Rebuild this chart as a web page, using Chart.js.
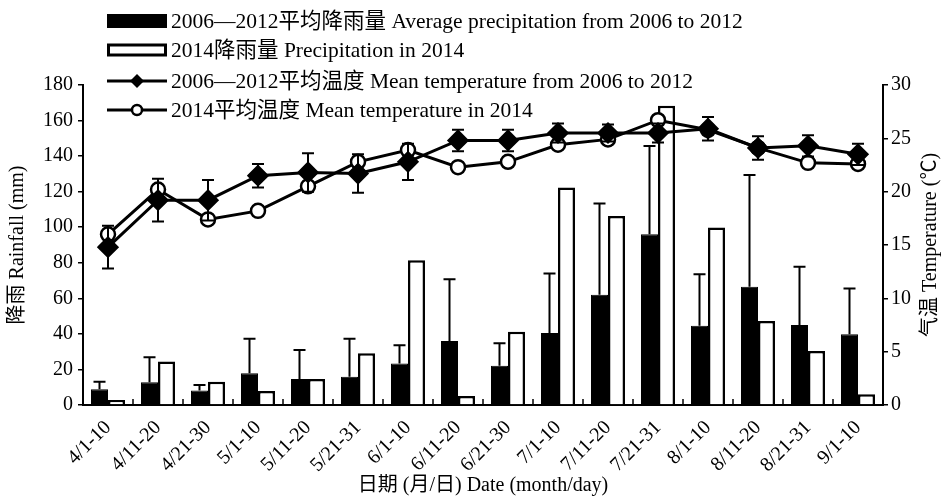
<!DOCTYPE html>
<html>
<head>
<meta charset="utf-8">
<script src="https://cdn.jsdelivr.net/npm/chart.js@4.4.1/dist/chart.umd.min.js"></script>
<style>
  html, body { margin: 0; padding: 0; background: #fff; }
  #wrap { width: 943px; height: 498px; }
</style>
</head>
<body>
<div id="wrap"><canvas id="myChart" width="943" height="498"></canvas></div>
<script>
var categories = ['4/1-10', '4/11-20', '4/21-30', '5/1-10', '5/11-20', '5/21-31', '6/1-10', '6/11-20',
                  '6/21-30', '7/1-10', '7/11-20', '7/21-31', '8/1-10', '8/11-20', '8/21-31', '9/1-10'];
var avgRain   = [8.8, 12.8, 8.1, 17.8, 14.6, 15.9, 23.4, 36.0, 22.1, 40.5, 62.0, 96.0, 44.6, 66.5, 45.0, 39.8];
var avgRainSd = [4.3, 14.0, 3.1, 19.5, 16.3, 21.4, 10.2, 34.7, 12.6, 33.5, 51.4, 49.7, 28.9, 62.9, 32.8, 25.8];
var rain2014  = [2.8, 24.4, 13.1, 7.9, 14.6, 29.1, 81.4, 5.0, 41.2, 122.4, 106.3, 168.3, 99.9, 47.2, 30.4, 6.0];
var avgTemp   = [14.8, 19.2, 19.2, 21.5, 21.8, 21.7, 22.8, 24.8, 24.8, 25.5, 25.5, 25.5, 25.9, 24.1, 24.3, 23.5];
var avgTempSd = [2.0, 2.0, 1.9, 1.1, 1.8, 1.8, 1.7, 1.0, 1.0, 0.9, 0.8, 0.9, 1.1, 1.1, 1.0, 1.0];
var temp2014  = [16.0, 20.2, 17.4, 18.2, 20.5, 22.8, 23.9, 22.3, 22.8, 24.4, 24.9, 26.7, 25.8, 24.1, 22.7, 22.6];

var legendLabels = ['2006—2012平均降雨量 Average precipitation from 2006 to 2012',
                    '2014降雨量 Precipitation in 2014',
                    '2006—2012平均温度 Mean temperature from 2006 to 2012',
                    '2014平均温度 Mean temperature in 2014'];

var FONT = '"Liberation Serif", "Noto Sans CJK SC", serif';

// error bars, inner x ticks, legend and right axis title
var decor = {
    id: 'decor',
    afterDatasetsDraw: function (chart) {
        var ctx = chart.ctx;
        var yL = chart.scales.y, yR = chart.scales.y1;
        ctx.save();
        ctx.strokeStyle = '#000';
        ctx.lineWidth = 2;
        chart.getDatasetMeta(0).data.forEach(function (bar, i) {
            var a = yL.getPixelForValue(avgRain[i]);
            var b = yL.getPixelForValue(avgRain[i] + avgRainSd[i]);
            ctx.beginPath();
            ctx.moveTo(bar.x, a); ctx.lineTo(bar.x, b);
            ctx.moveTo(bar.x - 6, b); ctx.lineTo(bar.x + 6, b);
            ctx.stroke();
        });
        chart.getDatasetMeta(2).data.forEach(function (pt, i) {
            var t = yR.getPixelForValue(avgTemp[i] + avgTempSd[i]);
            var d = yR.getPixelForValue(avgTemp[i] - avgTempSd[i]);
            ctx.beginPath();
            ctx.moveTo(pt.x, t); ctx.lineTo(pt.x, d);
            ctx.moveTo(pt.x - 6, t); ctx.lineTo(pt.x + 6, t);
            ctx.moveTo(pt.x - 6, d); ctx.lineTo(pt.x + 6, d);
            ctx.stroke();
        });
        ctx.restore();
    },
    afterDraw: function (chart) {
        var ctx = chart.ctx;
        var x = chart.scales.x, area = chart.chartArea;
        ctx.save();
        ctx.strokeStyle = '#000';
        ctx.fillStyle = '#000';
        ctx.lineWidth = 1.5;
        for (var i = 1; i < categories.length; i++) {
            var px = (x.getPixelForValue(i - 1) + x.getPixelForValue(i)) / 2;
            ctx.beginPath();
            ctx.moveTo(px, area.bottom);
            ctx.lineTo(px, area.bottom - 6);
            ctx.stroke();
        }

        // legend
        var rows = [21, 50, 81, 110];
        var lx = 107, lw = 60;
        ctx.font = '21.5px ' + FONT;
        ctx.textBaseline = 'middle';
        ctx.textAlign = 'left';
        ctx.fillRect(lx, rows[0] - 7, lw, 14);
        ctx.fillStyle = '#fff';
        ctx.fillRect(lx, rows[1] - 5, lw, 10);
        ctx.lineWidth = 3;
        ctx.strokeRect(lx + 1.5, rows[1] - 5, lw - 3, 10);
        ctx.fillStyle = '#000';
        ctx.beginPath();
        ctx.moveTo(lx, rows[2]); ctx.lineTo(lx + lw, rows[2]);
        ctx.moveTo(lx, rows[3]); ctx.lineTo(lx + lw, rows[3]);
        ctx.stroke();
        var cx = lx + lw / 2;
        ctx.beginPath();
        ctx.moveTo(cx, rows[2] - 7); ctx.lineTo(cx + 7, rows[2]);
        ctx.lineTo(cx, rows[2] + 7); ctx.lineTo(cx - 7, rows[2]);
        ctx.closePath();
        ctx.fill();
        ctx.beginPath();
        ctx.arc(cx, rows[3], 5, 0, Math.PI * 2);
        ctx.fillStyle = '#fff';
        ctx.fill();
        ctx.lineWidth = 2.5;
        ctx.stroke();
        ctx.fillStyle = '#000';
        legendLabels.forEach(function (t, k) {
            ctx.fillText(t, lx + lw + 4, rows[k] + 1);
        });

        // right axis title, reads bottom to top
        ctx.translate(931, (area.top + area.bottom) / 2);
        ctx.rotate(-Math.PI / 2);
        ctx.textAlign = 'center';
        ctx.font = '20px ' + FONT;
        ctx.fillText('气温 Temperature (℃)', 0, 0);
        ctx.restore();
    }
};

document.addEventListener('DOMContentLoaded', function () {
    var ctx = document.getElementById('myChart').getContext('2d');
    Chart.defaults.font.family = FONT;
    Chart.defaults.font.size = 20;
    Chart.defaults.color = '#000';

    new Chart(ctx, {
        type: 'bar',
        data: {
            labels: categories,
            datasets: [{
                label: legendLabels[0],
                data: avgRain,
                backgroundColor: '#000',
                borderColor: '#000',
                borderWidth: 1,
                yAxisID: 'y',
                order: 2
            }, {
                label: legendLabels[1],
                data: rain2014,
                backgroundColor: '#fff',
                borderColor: '#000',
                borderWidth: 2.5,
                yAxisID: 'y',
                order: 3
            }, {
                type: 'line',
                label: legendLabels[2],
                data: avgTemp,
                borderColor: '#000',
                backgroundColor: '#000',
                borderWidth: 3,
                pointStyle: 'rectRot',
                pointRadius: 9,
                pointBackgroundColor: '#000',
                tension: 0,
                yAxisID: 'y1',
                order: 0
            }, {
                type: 'line',
                label: legendLabels[3],
                data: temp2014,
                borderColor: '#000',
                borderWidth: 3,
                pointStyle: 'circle',
                pointRadius: 7,
                pointBorderWidth: 2.5,
                pointBackgroundColor: '#fff',
                tension: 0,
                yAxisID: 'y1',
                order: 1
            }]
        },
        options: {
            responsive: false,
            animation: false,
            devicePixelRatio: 1,
            categoryPercentage: 0.68,
            barPercentage: 1,
            layout: { padding: { top: 85, left: 0, right: 0, bottom: 0 } },
            plugins: {
                legend: { display: false },
                tooltip: { enabled: false }
            },
            scales: {
                x: {
                    grid: { display: false },
                    border: { color: '#000', width: 2 },
                    ticks: { autoSkip: false, minRotation: 45, maxRotation: 45, padding: 3 },
                    title: { display: true, text: '日期 (月/日) Date (month/day)', padding: { top: 0, bottom: 0 } },
                    afterFit: function (s) { s.height = 93; }
                },
                y: {
                    position: 'left',
                    min: 0, max: 180,
                    ticks: { stepSize: 20, padding: 5 },
                    grid: { drawOnChartArea: false, tickLength: 5, color: '#000', lineWidth: 1.5 },
                    border: { color: '#000', width: 2 },
                    title: { display: true, text: '降雨 Rainfall (mm)', padding: { top: 6, bottom: 0 } },
                    afterFit: function (s) { s.width = 83; }
                },
                y1: {
                    position: 'right',
                    min: 0, max: 30,
                    ticks: { stepSize: 5, padding: 3 },
                    grid: { drawOnChartArea: false, tickLength: 5, color: '#000', lineWidth: 1.5 },
                    border: { color: '#000', width: 2 },
                    afterFit: function (s) { s.width = 60; }
                }
            }
        },
        plugins: [decor]
    });
});
</script>
</body>
</html>
